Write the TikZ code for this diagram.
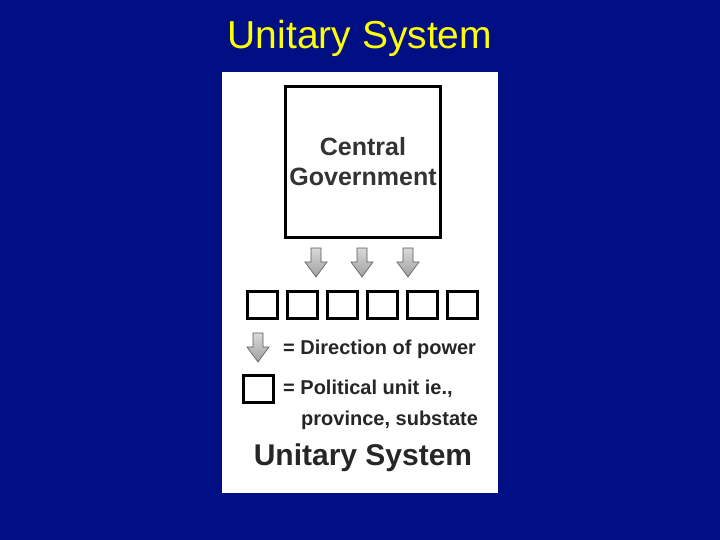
\documentclass[tikz,border=0pt]{standalone}
\usepackage{fontspec}
\setmainfont{Liberation Sans}
\definecolor{navy}{RGB}{0,16,132}
\definecolor{ttl}{RGB}{255,255,0}
\begin{document}
\begin{tikzpicture}[x=1pt,y=-1pt,
  unit/.style={draw=black,line width=3pt,fill=white,minimum width=30pt,minimum height=27pt,inner sep=0pt},
  lbl/.style={anchor=west,font=\fontsize{20}{22}\selectfont\bfseries,text=black!85,inner sep=0pt},
  pw/.style={top color=gray!30,bottom color=gray!75,draw=gray!70!black,line width=0.6pt}]
\fill[navy] (0,0) rectangle (720,540);
\useasboundingbox (0,0) rectangle (720,540);
\node[text=ttl,font=\fontsize{39}{42}\selectfont] (title) at (360,38) {Unitary System};
\fill[white] (222,72) rectangle (498,493);
\node[draw=black,line width=3pt,minimum width=155pt,minimum height=151pt,align=center,
  font=\fontsize{25}{30}\selectfont\bfseries,text=black!80] (cg) at (363,162) {Central\\Government};
\newcommand{\pwarrow}[2]{%
  \path[pw] (#1-5,#2) -- (#1+5,#2) -- (#1+5,#2+14) -- (#1+11,#2+14) -- (#1,#2+29) -- (#1-11,#2+14) -- (#1-5,#2+14) -- cycle;}
\pwarrow{316}{248}
\pwarrow{362}{248}
\pwarrow{408}{248}
\foreach \i in {0,...,5} \node[unit] (u\i) at (262.5+40*\i,305) {};
\pwarrow{258}{333}
\node[lbl] (l1) at (283,349) {= Direction of power};
\node[unit] (lu) at (258,389) {};
\node[lbl] (l2) at (283,389) {= Political unit ie.,};
\node[lbl] (l3) at (301,420) {province, substate};
\node[font=\fontsize{30}{32}\selectfont\bfseries,text=black!85] (us) at (363,458) {Unitary System};
\end{tikzpicture}
\end{document}
